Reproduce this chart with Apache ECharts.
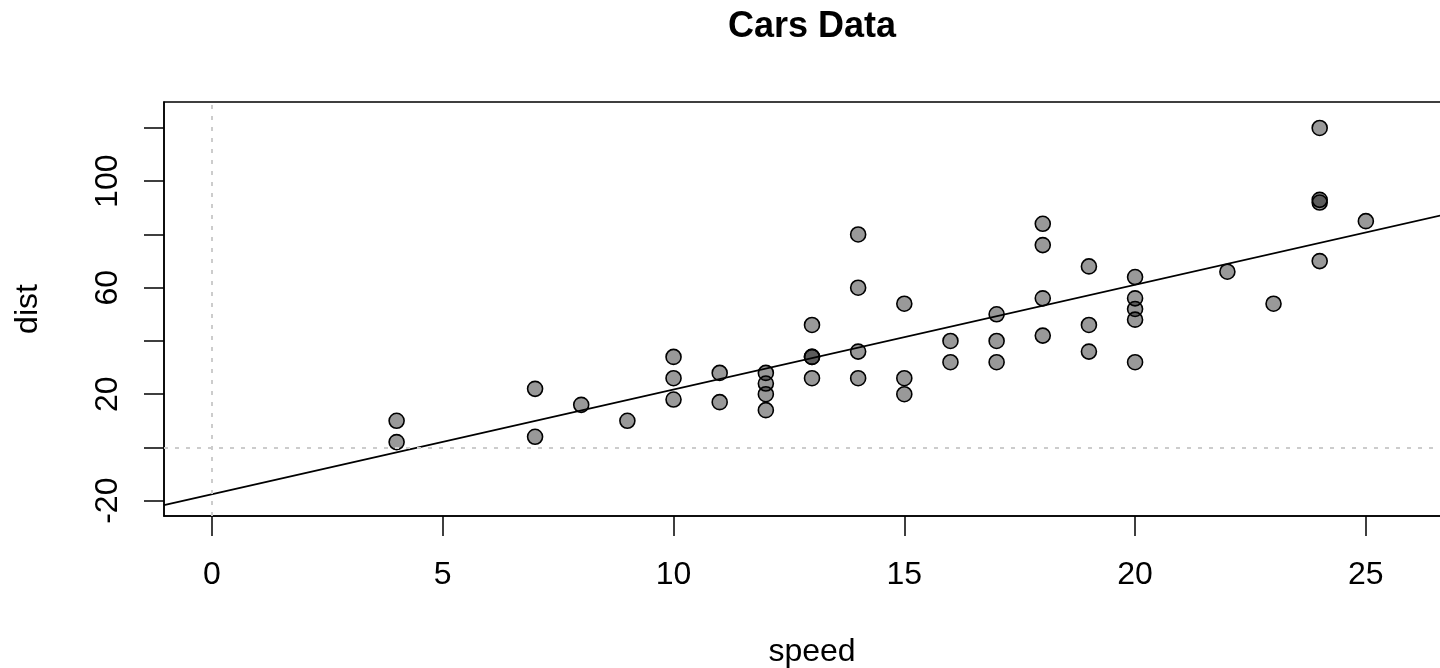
<!DOCTYPE html>
<html>
<head>
<meta charset="utf-8">
<title>Cars Data</title>
<script src="https://cdn.jsdelivr.net/npm/echarts@6/dist/echarts.min.js"></script>
<style>
  html, body { margin: 0; padding: 0; background: #fff; }
  #chart { width: 1440px; height: 668px; }
</style>
</head>
<body>
<div id="chart"></div>
<script>
// cars dataset: speed (mph) and stopping distance (ft)
const speed = [4, 4, 7, 7, 8, 9, 10, 10, 10, 11, 11, 12, 12, 12, 12, 13, 13, 13, 13, 14,
               14, 14, 14, 15, 15, 15, 16, 16, 17, 17, 17, 18, 18, 18, 18, 19, 19, 19, 20, 20,
               20, 20, 20, 22, 23, 24, 24, 24, 24, 25];
const dist = [2, 10, 4, 22, 16, 10, 18, 26, 34, 17, 28, 14, 20, 24, 28, 26, 34, 34, 46, 26,
              36, 60, 80, 20, 26, 54, 32, 40, 32, 40, 50, 42, 56, 76, 84, 36, 46, 68, 32, 48,
              52, 56, 64, 66, 54, 70, 92, 93, 120, 85];

const xTicks = [0, 5, 10, 15, 20, 25];
const yTicks = [-20, 0, 20, 40, 60, 80, 100, 120];
const yTickLabels = [-20, 20, 60, 100];

const xRange = [-1.04, 27.04];
const yRange = [-25.76, 129.76];

// least-squares fit of dist on speed
function fitLine(xs, ys) {
  const n = xs.length;
  const mx = xs.reduce((a, b) => a + b, 0) / n;
  const my = ys.reduce((a, b) => a + b, 0) / n;
  let sxy = 0, sxx = 0;
  for (let i = 0; i < n; i++) {
    sxy += (xs[i] - mx) * (ys[i] - my);
    sxx += (xs[i] - mx) * (xs[i] - mx);
  }
  const b = sxy / sxx;
  return { a: my - b * mx, b: b };
}
const fit = fitLine(speed, dist);
const fitData = xRange.map(x => [x, fit.a + fit.b * x]);
const points = speed.map((s, i) => [s, dist[i]]);

const FONT = "'Liberation Sans', Arial, Helvetica, sans-serif";

const chart = echarts.init(document.getElementById('chart'), null, { renderer: 'canvas' });
chart.setOption({
  animation: false,
  backgroundColor: '#ffffff',
  title: {
    text: 'Cars Data',
    left: 812,
    top: 9,
    padding: 0,
    textAlign: 'center',
    textStyle: { fontFamily: FONT, fontSize: 36, fontWeight: 'bold', color: '#000' }
  },
  grid: {
    left: 164, top: 102, width: 1296, height: 414,
    outerBoundsMode: 'none',
    containLabel: false,
    show: true, borderColor: '#000', borderWidth: 1.5, backgroundColor: 'transparent'
  },
  xAxis: {
    type: 'value',
    min: xRange[0], max: xRange[1],
    name: 'speed',
    nameLocation: 'middle',
    nameGap: 120,
    nameTextStyle: { fontFamily: FONT, fontSize: 32, color: '#000' },
    axisLine: { show: true, onZero: false, lineStyle: { color: '#000', width: 1.5 } },
    axisTick: { show: true, inside: false, length: 20, customValues: xTicks,
                lineStyle: { color: '#000', width: 1.5 } },
    axisLabel: { customValues: xTicks, margin: 43, fontFamily: FONT, fontSize: 32, color: '#000' },
    splitLine: { show: false }
  },
  yAxis: {
    type: 'value',
    min: yRange[0], max: yRange[1],
    name: 'dist',
    nameLocation: 'middle',
    nameGap: 120,
    nameTextStyle: { fontFamily: FONT, fontSize: 32, color: '#000' },
    axisLine: { show: true, onZero: false, lineStyle: { color: '#000', width: 1.5 } },
    axisTick: { show: true, inside: false, length: 20, customValues: yTicks,
                lineStyle: { color: '#000', width: 1.5 } },
    axisLabel: { customValues: yTickLabels, rotate: 90, margin: 40, fontFamily: FONT, fontSize: 32, color: '#000' },
    splitLine: { show: false }
  },
  series: [
    {
      // dotted reference lines at x = 0 and y = 0
      type: 'line',
      data: [],
      silent: true,
      z: 1,
      markLine: {
        silent: true,
        symbol: ['none', 'none'],
        label: { show: false },
        lineStyle: { color: '#cccccc', width: 2, type: [4, 7] },
        data: [{ xAxis: 0 }, { yAxis: 0 }]
      }
    },
    {
      type: 'scatter',
      data: points,
      symbol: 'circle',
      symbolSize: 15,
      z: 3,
      itemStyle: { color: 'rgba(0,0,0,0.4)', borderColor: '#000', borderWidth: 1.6, opacity: 1 }
    },
    {
      type: 'line',
      data: fitData,
      symbol: 'none',
      z: 4,
      lineStyle: { color: '#000', width: 1.8 }
    }
  ]
});
</script>
</body>
</html>
